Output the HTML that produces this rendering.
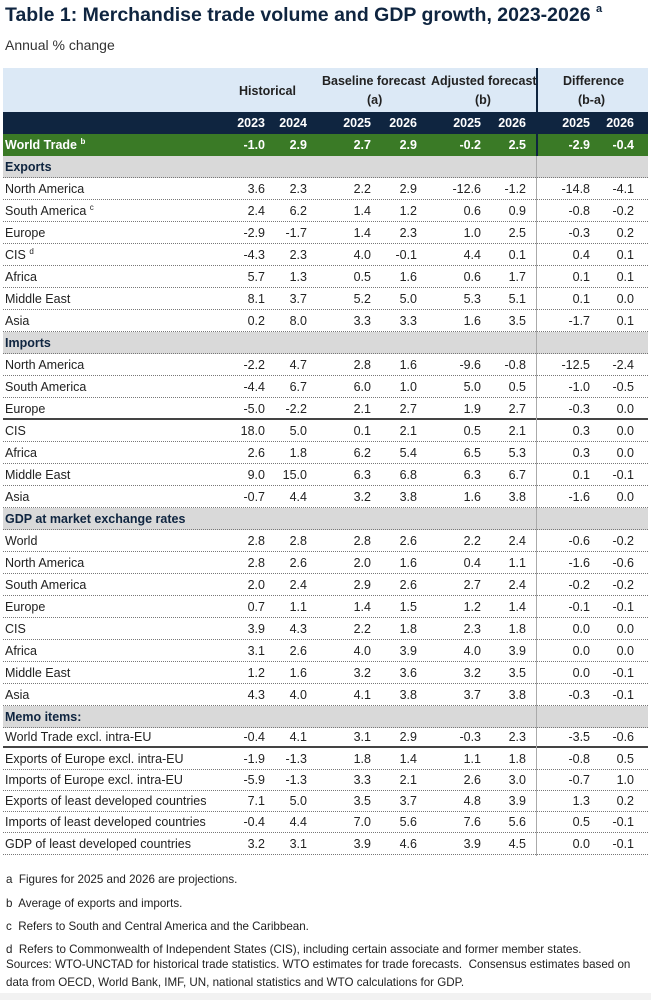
<!DOCTYPE html><html><head><meta charset="utf-8"><style>
*{margin:0;padding:0;box-sizing:border-box}
body{width:651px;height:1000px;background:#fff;font-family:"Liberation Sans",Arial,sans-serif;color:#222;position:relative;overflow:hidden}
.a{position:absolute;white-space:nowrap}
.row{position:absolute;left:3px;width:645px;height:22px;border-bottom:1px dotted #777;font-size:12.5px;line-height:22px}
.row span{position:absolute;top:0}
.l{left:2px}
.c1{right:383px}.c2{right:341px}.c3{right:277px}.c4{right:231px}.c5{right:167px}.c6{right:122px}.c7{right:58px}.c8{right:14px}
.sec{background:#d9d9d9;font-weight:bold;color:#0f2540}
.thick{border-bottom:2px solid #444}
sup{font-size:8px;line-height:0;position:relative;top:-5px;vertical-align:baseline}
.fn{position:absolute;left:6px;font-size:11.6px;white-space:nowrap;color:#222}
</style></head><body>
<div class="a" style="left:5px;top:4px;font-size:19.5px;font-weight:bold;color:#0f2540">Table 1: Merchandise trade volume and GDP growth, 2023-2026 <sup style="font-size:11px;top:-9px">a</sup></div>
<div class="a" style="left:5px;top:37px;font-size:14px;color:#333">Annual % change</div>

<div class="a" style="left:3px;top:68px;width:645px;height:44px;background:#dce9f6"></div>
<div class="a" style="left:239px;top:84px;font-size:12.5px;font-weight:bold;color:#222">Historical</div>
<div class="a" style="left:322px;top:74px;font-size:12.5px;font-weight:bold">Baseline forecast</div>
<div class="a" style="left:367px;top:93px;font-size:12.5px;font-weight:bold">(a)</div>
<div class="a" style="left:431px;top:74px;font-size:12.5px;font-weight:bold">Adjusted forecast</div>
<div class="a" style="left:475px;top:93px;font-size:12.5px;font-weight:bold">(b)</div>
<div class="a" style="left:563px;top:74px;font-size:12.5px;font-weight:bold">Difference</div>
<div class="a" style="left:578px;top:93px;font-size:12.5px;font-weight:bold">(b-a)</div>

<div class="row" style="top:112px;background:#0f2540;color:#fff;font-weight:bold;border:none"><span class="c1">2023</span><span class="c2">2024</span><span class="c3">2025</span><span class="c4">2026</span><span class="c5">2025</span><span class="c6">2026</span><span class="c7">2025</span><span class="c8">2026</span></div>
<div class="row" style="top:134px;background:#3a7a26;color:#fff;font-weight:bold;border:none"><span class="l">World Trade <sup>b</sup></span><span class="c1">-1.0</span><span class="c2">2.9</span><span class="c3">2.7</span><span class="c4">2.9</span><span class="c5">-0.2</span><span class="c6">2.5</span><span class="c7">-2.9</span><span class="c8">-0.4</span></div>

<div class="row sec" style="top:156px"><span class="l">Exports</span></div>
<div class="row" style="top:178px"><span class="l">North America</span><span class="c1">3.6</span><span class="c2">2.3</span><span class="c3">2.2</span><span class="c4">2.9</span><span class="c5">-12.6</span><span class="c6">-1.2</span><span class="c7">-14.8</span><span class="c8">-4.1</span></div>
<div class="row" style="top:200px"><span class="l">South America <sup>c</sup></span><span class="c1">2.4</span><span class="c2">6.2</span><span class="c3">1.4</span><span class="c4">1.2</span><span class="c5">0.6</span><span class="c6">0.9</span><span class="c7">-0.8</span><span class="c8">-0.2</span></div>
<div class="row" style="top:222px"><span class="l">Europe</span><span class="c1">-2.9</span><span class="c2">-1.7</span><span class="c3">1.4</span><span class="c4">2.3</span><span class="c5">1.0</span><span class="c6">2.5</span><span class="c7">-0.3</span><span class="c8">0.2</span></div>
<div class="row" style="top:244px"><span class="l">CIS <sup>d</sup></span><span class="c1">-4.3</span><span class="c2">2.3</span><span class="c3">4.0</span><span class="c4">-0.1</span><span class="c5">4.4</span><span class="c6">0.1</span><span class="c7">0.4</span><span class="c8">0.1</span></div>
<div class="row" style="top:266px"><span class="l">Africa</span><span class="c1">5.7</span><span class="c2">1.3</span><span class="c3">0.5</span><span class="c4">1.6</span><span class="c5">0.6</span><span class="c6">1.7</span><span class="c7">0.1</span><span class="c8">0.1</span></div>
<div class="row" style="top:288px"><span class="l">Middle East</span><span class="c1">8.1</span><span class="c2">3.7</span><span class="c3">5.2</span><span class="c4">5.0</span><span class="c5">5.3</span><span class="c6">5.1</span><span class="c7">0.1</span><span class="c8">0.0</span></div>
<div class="row" style="top:310px"><span class="l">Asia</span><span class="c1">0.2</span><span class="c2">8.0</span><span class="c3">3.3</span><span class="c4">3.3</span><span class="c5">1.6</span><span class="c6">3.5</span><span class="c7">-1.7</span><span class="c8">0.1</span></div>

<div class="row sec" style="top:332px"><span class="l">Imports</span></div>
<div class="row" style="top:354px"><span class="l">North America</span><span class="c1">-2.2</span><span class="c2">4.7</span><span class="c3">2.8</span><span class="c4">1.6</span><span class="c5">-9.6</span><span class="c6">-0.8</span><span class="c7">-12.5</span><span class="c8">-2.4</span></div>
<div class="row" style="top:376px"><span class="l">South America</span><span class="c1">-4.4</span><span class="c2">6.7</span><span class="c3">6.0</span><span class="c4">1.0</span><span class="c5">5.0</span><span class="c6">0.5</span><span class="c7">-1.0</span><span class="c8">-0.5</span></div>
<div class="row thick" style="top:398px;height:22px"><span class="l">Europe</span><span class="c1">-5.0</span><span class="c2">-2.2</span><span class="c3">2.1</span><span class="c4">2.7</span><span class="c5">1.9</span><span class="c6">2.7</span><span class="c7">-0.3</span><span class="c8">0.0</span></div>
<div class="row" style="top:420px"><span class="l">CIS</span><span class="c1">18.0</span><span class="c2">5.0</span><span class="c3">0.1</span><span class="c4">2.1</span><span class="c5">0.5</span><span class="c6">2.1</span><span class="c7">0.3</span><span class="c8">0.0</span></div>
<div class="row" style="top:442px"><span class="l">Africa</span><span class="c1">2.6</span><span class="c2">1.8</span><span class="c3">6.2</span><span class="c4">5.4</span><span class="c5">6.5</span><span class="c6">5.3</span><span class="c7">0.3</span><span class="c8">0.0</span></div>
<div class="row" style="top:464px"><span class="l">Middle East</span><span class="c1">9.0</span><span class="c2">15.0</span><span class="c3">6.3</span><span class="c4">6.8</span><span class="c5">6.3</span><span class="c6">6.7</span><span class="c7">0.1</span><span class="c8">-0.1</span></div>
<div class="row" style="top:486px"><span class="l">Asia</span><span class="c1">-0.7</span><span class="c2">4.4</span><span class="c3">3.2</span><span class="c4">3.8</span><span class="c5">1.6</span><span class="c6">3.8</span><span class="c7">-1.6</span><span class="c8">0.0</span></div>

<div class="row sec" style="top:508px"><span class="l">GDP at market exchange rates</span></div>
<div class="row" style="top:530px"><span class="l">World</span><span class="c1">2.8</span><span class="c2">2.8</span><span class="c3">2.8</span><span class="c4">2.6</span><span class="c5">2.2</span><span class="c6">2.4</span><span class="c7">-0.6</span><span class="c8">-0.2</span></div>
<div class="row" style="top:552px"><span class="l">North America</span><span class="c1">2.8</span><span class="c2">2.6</span><span class="c3">2.0</span><span class="c4">1.6</span><span class="c5">0.4</span><span class="c6">1.1</span><span class="c7">-1.6</span><span class="c8">-0.6</span></div>
<div class="row" style="top:574px"><span class="l">South America</span><span class="c1">2.0</span><span class="c2">2.4</span><span class="c3">2.9</span><span class="c4">2.6</span><span class="c5">2.7</span><span class="c6">2.4</span><span class="c7">-0.2</span><span class="c8">-0.2</span></div>
<div class="row" style="top:596px"><span class="l">Europe</span><span class="c1">0.7</span><span class="c2">1.1</span><span class="c3">1.4</span><span class="c4">1.5</span><span class="c5">1.2</span><span class="c6">1.4</span><span class="c7">-0.1</span><span class="c8">-0.1</span></div>
<div class="row" style="top:618px"><span class="l">CIS</span><span class="c1">3.9</span><span class="c2">4.3</span><span class="c3">2.2</span><span class="c4">1.8</span><span class="c5">2.3</span><span class="c6">1.8</span><span class="c7">0.0</span><span class="c8">0.0</span></div>
<div class="row" style="top:640px"><span class="l">Africa</span><span class="c1">3.1</span><span class="c2">2.6</span><span class="c3">4.0</span><span class="c4">3.9</span><span class="c5">4.0</span><span class="c6">3.9</span><span class="c7">0.0</span><span class="c8">0.0</span></div>
<div class="row" style="top:662px"><span class="l">Middle East</span><span class="c1">1.2</span><span class="c2">1.6</span><span class="c3">3.2</span><span class="c4">3.6</span><span class="c5">3.2</span><span class="c6">3.5</span><span class="c7">0.0</span><span class="c8">-0.1</span></div>
<div class="row" style="top:684px"><span class="l">Asia</span><span class="c1">4.3</span><span class="c2">4.0</span><span class="c3">4.1</span><span class="c4">3.8</span><span class="c5">3.7</span><span class="c6">3.8</span><span class="c7">-0.3</span><span class="c8">-0.1</span></div>

<div class="row sec" style="top:706px"><span class="l">Memo items:</span></div>
<div class="row thick" style="top:726px"><span class="l">World Trade excl. intra-EU</span><span class="c1">-0.4</span><span class="c2">4.1</span><span class="c3">3.1</span><span class="c4">2.9</span><span class="c5">-0.3</span><span class="c6">2.3</span><span class="c7">-3.5</span><span class="c8">-0.6</span></div>
<div class="row" style="top:748px"><span class="l">Exports of Europe excl. intra-EU</span><span class="c1">-1.9</span><span class="c2">-1.3</span><span class="c3">1.8</span><span class="c4">1.4</span><span class="c5">1.1</span><span class="c6">1.8</span><span class="c7">-0.8</span><span class="c8">0.5</span></div>
<div class="row" style="top:769px"><span class="l">Imports of Europe excl. intra-EU</span><span class="c1">-5.9</span><span class="c2">-1.3</span><span class="c3">3.3</span><span class="c4">2.1</span><span class="c5">2.6</span><span class="c6">3.0</span><span class="c7">-0.7</span><span class="c8">1.0</span></div>
<div class="row" style="top:790px"><span class="l">Exports of least developed countries</span><span class="c1">7.1</span><span class="c2">5.0</span><span class="c3">3.5</span><span class="c4">3.7</span><span class="c5">4.8</span><span class="c6">3.9</span><span class="c7">1.3</span><span class="c8">0.2</span></div>
<div class="row" style="top:811px"><span class="l">Imports of least developed countries</span><span class="c1">-0.4</span><span class="c2">4.4</span><span class="c3">7.0</span><span class="c4">5.6</span><span class="c5">7.6</span><span class="c6">5.6</span><span class="c7">0.5</span><span class="c8">-0.1</span></div>
<div class="row" style="top:833px"><span class="l">GDP of least developed countries</span><span class="c1">3.2</span><span class="c2">3.1</span><span class="c3">3.9</span><span class="c4">4.6</span><span class="c5">3.9</span><span class="c6">4.5</span><span class="c7">0.0</span><span class="c8">-0.1</span></div>

<div class="a" style="left:536px;top:68px;width:2px;height:88px;background:#0f2540"></div>
<div class="a" style="left:536px;top:156px;width:1px;height:700px;background:#aaa"></div>

<div class="fn" style="top:873px">a&nbsp; Figures for 2025 and 2026 are projections.</div>
<div class="fn" style="top:897px">b&nbsp; Average of exports and imports.</div>
<div class="fn" style="top:920px">c&nbsp; Refers to South and Central America and the Caribbean.</div>
<div class="fn" style="top:943px">d&nbsp; Refers to Commonwealth of Independent States (CIS), including certain associate and former member states.</div>
<div class="fn" style="top:958px">Sources: WTO-UNCTAD for historical trade statistics. WTO estimates for trade forecasts.&nbsp; Consensus estimates based on</div>
<div class="fn" style="top:976px">data from OECD, World Bank, IMF, UN, national statistics and WTO calculations for GDP.</div>
<div class="a" style="left:0;top:993px;width:651px;height:7px;background:#f2f2f2"></div>
</body></html>
